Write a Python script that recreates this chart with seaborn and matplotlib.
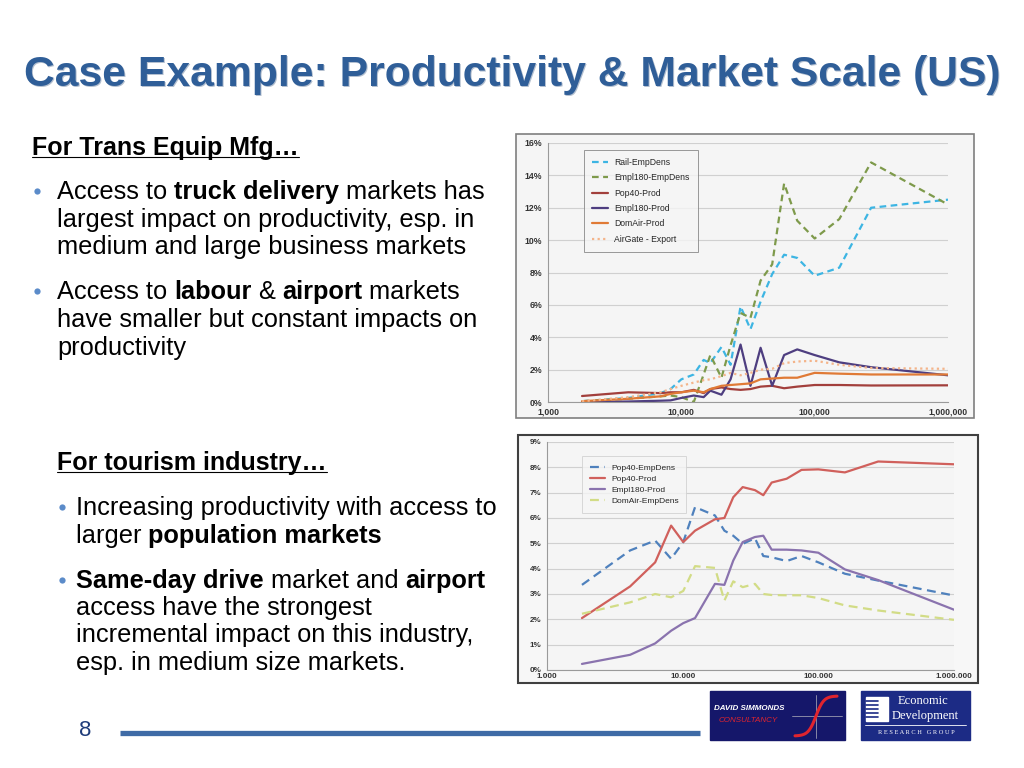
import matplotlib
matplotlib.use("Agg")
import matplotlib.pyplot as plt
from matplotlib.patches import Rectangle
import seaborn as sns
import numpy as np
import pandas as pd

sns.set_theme(style="white")
plt.rcParams['font.family'] = ['Liberation Sans', 'DejaVu Sans']

# TOP CHART DATA (Trans Equip Mfg), values in %
top_x = [1800, 4000, 7000, 8300, 10000, 12400, 14700, 16500, 20000, 23400,
         27800, 33000, 39300, 48000, 59000, 74000, 100000, 153000, 265000, 1000000]
top_rail_empdens = [0.05, 0.25, 0.55, 0.8, 1.4, 1.7, 2.6, 2.4, 3.4, 2.3,
                    5.9, 4.5, 6.2, 7.9, 9.1, 8.9, 7.8, 8.3, 12.0, 12.5]
top_empl180_empdens = [0.05, 0.2, 0.35, 0.4, 0.3, 0.0, 1.7, 2.9, 1.5, 3.5,
                       5.5, 5.2, 7.5, 8.5, 13.5, 11.2, 10.1, 11.3, 14.8, 12.2]
top_pop40_prod = [0.37, 0.6, 0.55, 0.6, 0.6, 0.75, 0.55, 0.8, 0.9, 0.8,
                  0.75, 0.8, 0.95, 1.0, 0.85, 0.95, 1.05, 1.05, 1.02, 1.03]
top_empl180_prod = [0.0, 0.03, 0.08, 0.1, 0.25, 0.4, 0.3, 0.7, 0.45, 1.4,
                    3.55, 1.0, 3.35, 1.0, 2.9, 3.25, 2.9, 2.45, 2.15, 1.65]
top_domair_prod = [0.05, 0.2, 0.35, 0.5, 0.6, 0.7, 0.6, 0.8, 1.0, 1.05,
                   1.1, 1.15, 1.4, 1.45, 1.5, 1.5, 1.8, 1.75, 1.7, 1.7]
top_airgate_export = [0.05, 0.3, 0.6, 0.8, 1.0, 1.2, 1.35, 1.4, 1.6, 1.8,
                      1.65, 1.8, 2.0, 2.05, 2.4, 2.5, 2.55, 2.3, 2.1, 2.05]
top_names = ['Rail-EmpDens', 'Empl180-EmpDens', 'Pop40-Prod', 'Empl180-Prod', 'DomAir-Prod', 'AirGate - Export']
top_colors = ['#3DB5E3', '#7E9A4B', '#A23F3C', '#4E3E80', '#E07A36', '#F4B48A']
top_dashes = [(3, 2), (3, 2), '', '', '', (1, 1.5)]
top_ticks = [1000, 10000, 100000, 1000000]
top_ticklabels = ['1,000', '10,000', '100,000', '1,000,000']

# BOTTOM CHART DATA (tourism), values in %
bot_x = [1810, 4100, 6270, 8220, 10100, 12340, 17300, 20300, 23600, 27700,
         34100, 39300, 45300, 58400, 75200, 100000, 157000, 276000, 1000000]
bot_pop40_empdens = [3.36, 4.72, 5.11, 4.39, 5.05, 6.43, 6.1, 5.5, 5.3, 4.98,
                     5.2, 4.5, 4.45, 4.3, 4.5, 4.25, 3.8, 3.53, 2.94]
bot_pop40_prod = [2.05, 3.3, 4.25, 5.7, 5.05, 5.5, 5.95, 6.0, 6.82, 7.22,
                  7.1, 6.9, 7.4, 7.55, 7.9, 7.92, 7.8, 8.23, 8.12]
bot_empl180_prod = [0.24, 0.6, 1.05, 1.55, 1.85, 2.05, 3.4, 3.36, 4.32, 5.05,
                    5.25, 5.3, 4.75, 4.75, 4.72, 4.63, 3.97, 3.55, 2.38]
bot_domair_empdens = [2.22, 2.67, 3.0, 2.87, 3.12, 4.1, 4.03, 2.74, 3.5, 3.27,
                      3.4, 3.0, 2.96, 2.95, 2.95, 2.84, 2.55, 2.35, 1.98]
bot_names = ['Pop40-EmpDens', 'Pop40-Prod', 'Empl180-Prod', 'DomAir-EmpDens']
bot_colors = ['#4F81BD', '#D0605C', '#8A73AE', '#D2DC86']
bot_dashes = [(4, 2.5), '', '', (4, 2.5)]
bot_ticklabels = ['1.000', '10.000', '100.000', '1.000.000']

W, H = 1024, 768
BODY = 18.3
fig = plt.figure(figsize=(10.24, 7.68), dpi=100)
fig.set_facecolor('white')

# overlay axes in pixel coordinates for slide text and decorations
bg = fig.add_axes([0, 0, 1, 1], zorder=0)
bg.set_xlim(0, W)
bg.set_ylim(H, 0)
bg.axis('off')
fig.canvas.draw()
renderer = fig.canvas.get_renderer()


def rich_line(x, y, parts, size=BODY, color='black'):
    # y is the visual middle of the line, text is placed on a baseline below it
    base = y + size * 0.45
    for txt, bold in parts:
        t = bg.text(x, base, txt, fontsize=size, fontweight='bold' if bold else 'normal',
                    va='baseline', ha='left', color=color)
        x += t.get_window_extent(renderer).width
    return x


def bullet(x, y):
    bg.plot([x], [y], 'o', ms=4.5, color='#5B8BC9', mec='none')


# title with shadow
title = 'Case Example: Productivity & Market Scale (US)'
bg.text(513.5, 76.5, title, fontsize=30.7, fontweight='bold', color='#B4C0D0', ha='center', va='center')
bg.text(512, 75, title, fontsize=30.7, fontweight='bold', color='#2F5E98', ha='center', va='center')

# left text, section 1
x_end = rich_line(32, 147, [('For Trans Equip Mfg…', True)], size=18)
bg.plot([32, x_end], [157, 157], color='black', lw=0.8)
bullet(37, 191)
rich_line(57, 191, [('Access to ', False), ('truck delivery', True), (' markets has', False)])
rich_line(57, 219, [('largest impact on productivity, esp. in', False)])
rich_line(57, 246, [('medium and large business markets', False)])
bullet(37, 291)
rich_line(57, 291, [('Access to ', False), ('labour', True), (' & ', False), ('airport', True), (' markets', False)])
rich_line(57, 319, [('have smaller but constant impacts on', False)])
rich_line(57, 347, [('productivity', False)])

# left text, section 2
x_end = rich_line(57, 462, [('For tourism industry…', True)], size=18)
bg.plot([57, x_end], [472, 472], color='black', lw=0.8)
bullet(62, 507)
rich_line(76, 507, [('Increasing productivity with access to', False)])
rich_line(76, 535, [('larger ', False), ('population markets', True)])
bullet(62, 580)
rich_line(76, 580, [('Same-day drive', True), (' market and ', False), ('airport', True)])
rich_line(76, 607, [('access have the strongest', False)])
rich_line(76, 634, [('incremental impact on this industry,', False)])
rich_line(76, 662, [('esp. in medium size markets.', False)])

# footer
bg.text(85, 731, '8', fontsize=16, color='#1F3C7A', ha='center', va='center')
bg.plot([120, 700], [733, 733], color='#3F6BA6', lw=3.8, solid_capstyle='butt')

# logos
bg.add_patch(Rectangle((710, 691), 135, 49, color='#15176A'))
bg.text(714, 709, 'DAVID SIMMONDS', fontsize=5.8, fontweight='bold', style='italic', color='white', va='center')
bg.text(719, 721, 'CONSULTANCY', fontsize=5.8, style='italic', color='#E0242E', va='center')
bg.plot([792, 842], [716, 716], color='#9A9AB0', lw=0.6)
bg.plot([816, 816], [695, 738], color='#9A9AB0', lw=0.6)
s = np.linspace(-3, 3, 40)
bg.plot(816 + s * 7, 716 - np.tanh(s * 0.9) * 20, color='#E0242E', lw=2.2)

bg.add_patch(Rectangle((861, 691), 109, 49, color='#1C2B85'))
bg.text(898, 701, 'Economic', fontsize=9, family='Liberation Serif', color='white', va='center')
bg.text(892, 716, 'Development', fontsize=9, family='Liberation Serif', color='white', va='center')
bg.plot([865, 966], [725, 725], color='white', lw=0.6)
bg.text(916, 732, 'R E S E A R C H   G R O U P', fontsize=4.6, family='Liberation Serif', color='white',
        va='center', ha='center')
bg.add_patch(Rectangle((866, 697), 22, 24, color='white'))
for yy in [701, 705, 709, 713, 717]:
    bg.plot([866, 878], [yy, yy], color='#1C2B85', lw=1.2)

# chart frames
bg.add_patch(Rectangle((516, 134), 458, 284, facecolor='#F5F5F5', edgecolor='#7F7F7F', lw=1.2))
bg.add_patch(Rectangle((518, 435), 460, 248, facecolor='#F7F7F7', edgecolor='#404040', lw=1.5))


def draw_chart(ax, x, series, names, colors, dashes, ymax, ystep, ticklabels,
               leg_anchor, leg_size, leg_spacing, leg_frame, tick_size, xpad):
    frames = []
    for name, vals in zip(names, series):
        frames.append(pd.DataFrame({'size': x, 'pct': vals, 'series': name}))
    df = pd.concat(frames, ignore_index=True)
    sns.lineplot(data=df, x='size', y='pct', hue='series', style='series', ax=ax,
                 palette=dict(zip(names, colors)), dashes=dict(zip(names, dashes)),
                 hue_order=names, style_order=names, estimator=None, lw=1.6)
    ax.set_xscale('log')
    ax.set_xlim(1000, 1000000)
    ax.set_ylim(0, ymax)
    ax.set_facecolor('#F5F5F5')
    yt = np.arange(0, ymax + 0.01, ystep)
    ax.set_yticks(yt)
    ax.set_yticklabels([f'{int(v)}%' for v in yt])
    ax.set_xticks(top_ticks)
    ax.set_xticklabels(ticklabels)
    ax.minorticks_off()
    ax.grid(axis='y', color='#D0D0D0', lw=0.8)
    ax.grid(axis='x', visible=False)
    for sp in ['top', 'right']:
        ax.spines[sp].set_visible(False)
    for sp in ['left', 'bottom']:
        ax.spines[sp].set_color('#9A9A9A')
        ax.spines[sp].set_linewidth(0.8)
    ax.tick_params(axis='both', length=0, labelsize=tick_size, labelcolor='#333333', pad=4)
    ax.tick_params(axis='x', pad=xpad)
    for lab in ax.get_xticklabels() + ax.get_yticklabels():
        lab.set_fontweight('bold')
    ax.set_xlabel('')
    ax.set_ylabel('')
    leg = ax.legend(loc='upper left', bbox_to_anchor=leg_anchor, fontsize=leg_size,
                    labelspacing=leg_spacing, handlelength=1.9, handletextpad=0.7, borderpad=0.9,
                    fancybox=False, frameon=True, facecolor='#F5F5F5', edgecolor=leg_frame)
    leg.get_frame().set_linewidth(0.7)


ax1 = fig.add_axes([548 / W, 1 - 402 / H, 400 / W, 259 / H], zorder=2)
draw_chart(ax1, top_x,
           [top_rail_empdens, top_empl180_empdens, top_pop40_prod, top_empl180_prod,
            top_domair_prod, top_airgate_export],
           top_names, top_colors, top_dashes, 16, 2, top_ticklabels,
           (0.08, 0.99), 6.2, 0.75, '#808080', 6.3, 4)

ax2 = fig.add_axes([547 / W, 1 - 670 / H, 407 / W, 228 / H], zorder=2)
draw_chart(ax2, bot_x,
           [bot_pop40_empdens, bot_pop40_prod, bot_empl180_prod, bot_domair_empdens],
           bot_names, bot_colors, bot_dashes, 9, 1, bot_ticklabels,
           (0.076, 0.955), 6.0, 0.4, '#CFCFCF', 5.8, 2)

fig.savefig('out.png', dpi=100, facecolor='white')
